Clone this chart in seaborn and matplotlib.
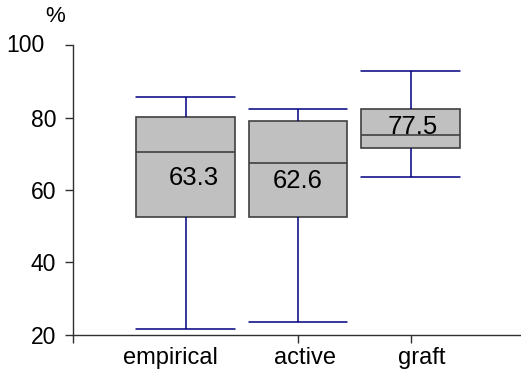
import numpy as np
import matplotlib
matplotlib.use('Agg')
import matplotlib.pyplot as plt
import seaborn as sns
import pandas as pd

# five-number summaries: min, q1, median, q3, max
groups = ['empirical', 'active', 'graft']
empirical = [21.7, 52.6, 70.5, 80.1, 85.8]
active = [23.7, 52.6, 67.4, 79.0, 82.3]
graft = [63.7, 71.5, 75.2, 82.3, 92.8]
means = [63.3, 62.6, 77.5]
mean_labels = ['63.3', '62.6', '77.5']
y_ticks = [20, 40, 60, 80, 100]

sns.set_style('white')
plt.rcParams['font.family'] = ['Liberation Sans', 'DejaVu Sans']
plt.rcParams['text.color'] = 'black'
plt.rcParams['xtick.color'] = 'black'
plt.rcParams['ytick.color'] = 'black'

df = pd.DataFrame({'group': np.repeat(groups, 5),
                   'value': empirical + active + graft})

fig = plt.figure(figsize=(5.21, 3.73), dpi=100)
ax = fig.add_axes([0.140, 0.102, 0.858, 0.777])

sns.boxplot(data=df, x='group', y='value', order=groups, ax=ax,
            whis=(0, 100), width=0.875, color='#c0c0c0', linewidth=1.2,
            linecolor='#404040', capwidths=0.875,
            boxprops=dict(facecolor='#c0c0c0', edgecolor='#404040'),
            medianprops=dict(color='#404040', linewidth=1.2),
            whiskerprops=dict(color='#000080', linewidth=1.1),
            capprops=dict(color='#000080', linewidth=1.1))

# mean values written inside the boxes
offsets = [0.07, 0.0, 0.02]
for i, (m, lab) in enumerate(zip(means, mean_labels)):
    ax.text(i + offsets[i], m, lab, ha='center', va='center', fontsize=18.5,
            color='black')

ax.set_xlim(-1, 2.97)
ax.set_ylim(20, 100)
ax.set_xlabel('')
ax.set_ylabel('')

# labels sit a bit off the category centres, tick marks at -1, 1, 2
ax.set_xticks([-0.13, 1.06, 2.1])
ax.set_xticklabels(groups, fontsize=17)
ax.tick_params(axis='x', which='major', length=0, pad=9, labelcolor='black')
ax.set_xticks([-1, 1, 2], minor=True)
ax.tick_params(axis='x', which='minor', length=6, width=1, color='#303030',
               direction='out', bottom=True)

ax.set_yticks(y_ticks)
ax.set_yticklabels(['20', '40', '60', '80', ''], fontsize=16.5)
ax.tick_params(axis='y', length=6, width=1, color='#303030', direction='out',
               pad=6, left=True, labelcolor='black')
ax.text(-0.107, 100, '100', transform=ax.get_yaxis_transform(),
        ha='center', va='center', fontsize=16.5, color='black')

for s in ['top', 'right']:
    ax.spines[s].set_visible(False)
for s in ['left', 'bottom']:
    ax.spines[s].set_color('#303030')
    ax.spines[s].set_linewidth(1)

fig.text(55 / 521, 1 - 17 / 373, '%', ha='center', va='center', fontsize=16,
         color='black')

fig.savefig('out.png', dpi=100)
